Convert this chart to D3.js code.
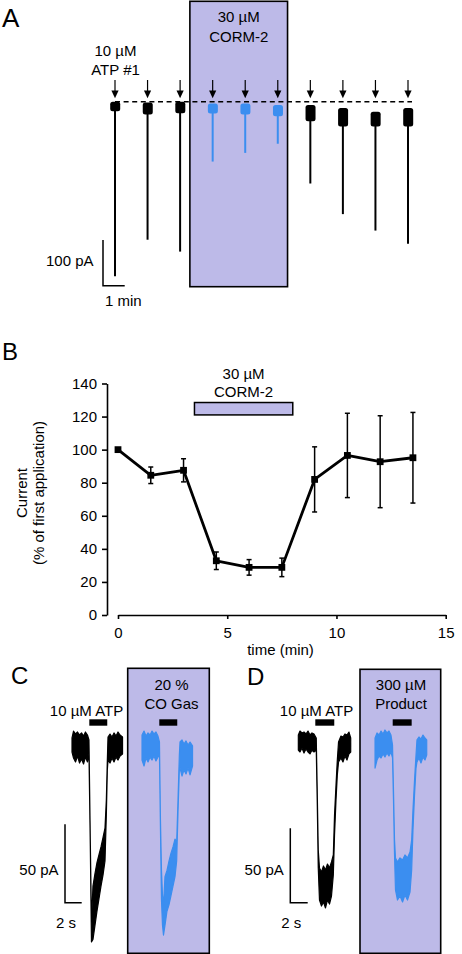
<!DOCTYPE html>
<html>
<head>
<meta charset="utf-8">
<script src="https://cdn.jsdelivr.net/npm/d3@7"></script>
<style>
  html, body { margin: 0; padding: 0; background: #fff; }
  svg { display: block; }
  text { font-family: "Liberation Sans", Arial, Helvetica, sans-serif; fill: #000; }
</style>
</head>
<body>
<svg id="fig" width="462" height="954"></svg>
<script>
// ---------------- DATA ----------------
// Panel A: ATP applications (min), peak inward current (pA below baseline), baseline noise band (pA below baseline)
const aTimes = [0, 1.5, 3, 4.5, 6, 7.5, 9, 10.5, 12, 13.5];
const aPeak = [382, 302, 328, 131, 112, 92, 179, 246, 282, 311];
const aNoiseTop = [0, 2, 0, 4, 4, 7, 7, 14, 22, 14];
const aNoiseBottom = [21, 28, 25, 26, 28, 32, 43, 54, 54, 54];
const aCormWindow = [3.45, 7.95];

// Panel B: normalised current (% of first application)
const bTimes = [0, 1.5, 3, 4.5, 6, 7.5, 9, 10.5, 12, 13.5];
const bMean = [100, 84.5, 87.5, 32.8, 28.8, 28.8, 82, 96.5, 92.7, 95.1];
const bSem = [0, 5, 7, 5.3, 4.7, 5.6, 19.7, 25.5, 27.8, 27.4];
const bYTicks = [0, 20, 40, 60, 80, 100, 120, 140];
const bXTicks = [0, 5, 10, 15];
const bCormBar = [3.5, 8];
const bCormBarLevel = [121, 128.5];

// Panels C / D: traces as [time (s) from ATP onset, upper edge (pA), lower edge (pA)]
const cAtpTrace = [
  [-2.07, 4.5, -4.5], [-1.89, 8.9, -8.3], [-1.65, 7.0, -10.8], [-1.41, 8.3, -7.0],
  [-1.17, 6.4, -11.5], [-0.93, 7.7, -8.9], [-0.69, 5.7, -12.1], [-0.46, 8.3, -7.7],
  [-0.22, 6.4, -10.8], [-0.04, 3.2, -5.7], [0.12, -60.6, -64.4], [0.26, -113.1, -125.6],
  [0.44, -90.0, -124.0], [0.68, -82.0, -115.0], [0.92, -75.0, -106.0], [1.16, -70.0, -98.0],
  [1.40, -65.0, -90.0], [1.64, -59.0, -83.0], [1.88, -53.0, -74.0], [2.04, -35.1, -44.6],
  [2.16, -9.6, -15.9], [2.24, 5.1, -9.6], [2.48, 7.0, -11.5], [2.72, 5.1, -8.3],
  [2.96, 7.7, -10.8], [3.20, 5.7, -7.7], [3.44, 8.3, -9.6], [3.68, 6.4, -7.0], [3.98, 5.1, -5.7]
];
const cCoTrace = [
  [-2.07, 6.4, -9.6], [-1.83, 8.9, -13.4], [-1.59, 5.7, -8.3], [-1.35, 7.7, -10.8],
  [-1.11, 6.4, -7.7], [-0.87, 8.9, -9.6], [-0.63, 7.0, -7.0], [-0.40, 8.3, -10.2],
  [-0.16, 5.7, -7.7], [0.02, 1.9, -6.4], [0.14, -47.8, -54.2], [0.26, -79.7, -98.9],
  [0.38, -95.7, -114.8], [0.50, -102.0, -121.2], [0.68, -84.0, -115.0], [0.92, -80.0, -106.0],
  [1.16, -74.0, -102.0], [1.40, -69.0, -96.0], [1.64, -65.0, -90.0], [1.88, -60.0, -84.0],
  [2.08, -62.0, -74.0], [2.24, -35.1, -42.7], [2.40, -6.4, -15.9], [2.48, 1.9, -14.7],
  [2.72, 3.2, -19.8], [2.96, 0.6, -15.9], [3.20, 2.6, -18.5], [3.44, 0, -14.7],
  [3.68, 1.9, -19.1], [3.98, -0.6, -13.4]
];
const dAtpTrace = [
  [-1.95, 6.7, -3.4], [-1.76, 9.4, -4.7], [-1.53, 8.1, -2.0], [-1.30, 8.7, -5.4],
  [-1.07, 7.4, -2.7], [-0.84, 9.4, -4.7], [-0.61, 6.7, -6.0], [-0.38, 8.1, -3.4],
  [-0.15, 7.4, -4.7], [0.11, 4.7, -3.4], [0.22, -30.2, -37.0], [0.34, -70.6, -82.7],
  [0.48, -82.7, -104.2], [0.71, -85.3, -108.2], [0.94, -81.3, -105.5], [1.17, -84.0, -109.5],
  [1.40, -80.0, -104.2], [1.63, -82.7, -106.9], [1.86, -78.6, -101.5], [2.07, -73.9, -87.4],
  [2.21, -47.0, -60.5], [2.38, -26.9, -37.0], [2.53, -10.1, -20.2], [2.67, 2.0, -11.4],
  [2.95, 6.0, -8.7], [3.18, 5.4, -11.4], [3.41, 7.4, -7.4], [3.64, 6.7, -10.1],
  [3.87, 8.7, -6.0], [4.07, 4.7, -4.7]
];
const dProductTrace = [
  [-2.03, 4.7, -15.5], [-1.80, 8.1, -10.1], [-1.57, 6.7, -7.4], [-1.34, 9.4, -8.7],
  [-1.11, 7.4, -6.0], [-0.89, 10.1, -8.1], [-0.66, 8.1, -5.4], [-0.43, 9.4, -7.4],
  [-0.20, 6.7, -4.7], [-0.02, 0, -8.7], [0.09, -30.2, -37.0], [0.21, -63.8, -73.9],
  [0.32, -75.9, -97.4], [0.55, -78.6, -104.2], [0.84, -75.9, -101.5], [1.13, -77.3, -105.5],
  [1.41, -73.9, -100.8], [1.70, -75.9, -104.2], [1.99, -71.9, -98.8], [2.18, -63.8, -84.0],
  [2.33, -43.7, -57.1], [2.51, -23.5, -33.6], [2.68, -6.7, -15.5], [2.79, 3.4, -11.4],
  [3.02, 5.4, -8.7], [3.25, 4.0, -12.1], [3.48, 6.7, -8.1], [3.71, 4.7, -10.1], [3.91, 3.4, -6.7]
];
const cAtpDuration = 2.15;
const dAtpDuration = 2.18;

// ---------------- STYLE ----------------
const PURPLE = "#bdbae8";
const BLUE = "#3b8ef0";
const BLACK = "#000";
const FONT = 15;

const svg = d3.select("#fig");
svg.append("rect").attr("width", 462).attr("height", 954).attr("fill", "#fff");

function label(g, x, y, txt, anchor, size) {
  return g.append("text").attr("x", x).attr("y", y)
    .attr("text-anchor", anchor || "middle")
    .attr("font-size", size || FONT).text(txt);
}

// ================= PANEL A =================
const gA = svg.append("g");
const xA = d3.scaleLinear().domain([0, 13.5]).range([115, 408]);
const yA = d3.scaleLinear().domain([0, -100]).range([101.7, 147.4]);

gA.append("rect")
  .attr("x", xA(aCormWindow[0])).attr("y", 1.3)
  .attr("width", xA(aCormWindow[1]) - xA(aCormWindow[0])).attr("height", 285.4)
  .attr("fill", PURPLE).attr("stroke", BLACK).attr("stroke-width", 1.6);

label(gA, 2, 27, "A", "start", 26);
label(gA, (xA(aCormWindow[0]) + xA(aCormWindow[1])) / 2, 22, "30 \u00b5M");
label(gA, (xA(aCormWindow[0]) + xA(aCormWindow[1])) / 2, 41.5, "CORM-2");
label(gA, xA(0) + 0.5, 55.5, "10 \u00b5M");
label(gA, xA(0) + 0.5, 74.5, "ATP #1");

// dashed baseline
gA.append("line")
  .attr("x1", xA(0)).attr("x2", xA(13.5) + 4)
  .attr("y1", yA(0)).attr("y2", yA(0))
  .attr("stroke", BLACK).attr("stroke-width", 1.5).attr("stroke-dasharray", "5,3.6");

const inCorm = t => t > aCormWindow[0] && t < aCormWindow[1];

// arrows
aTimes.forEach(t => {
  const x = xA(t);
  gA.append("line").attr("x1", x).attr("x2", x).attr("y1", 80).attr("y2", 92)
    .attr("stroke", BLACK).attr("stroke-width", 1.2);
  gA.append("path").attr("d", `M${x - 3.6},90.5L${x + 3.6},90.5L${x},98.2Z`).attr("fill", BLACK);
});

// responses
aTimes.forEach((t, i) => {
  const x = xA(t);
  const col = inCorm(t) ? BLUE : BLACK;
  gA.append("line").attr("x1", x).attr("x2", x)
    .attr("y1", yA(-aNoiseBottom[i]) - 2).attr("y2", yA(-aPeak[i]))
    .attr("stroke", col).attr("stroke-width", 2);
  gA.append("rect")
    .attr("x", x - 4.8).attr("width", 10)
    .attr("y", yA(-aNoiseTop[i])).attr("height", yA(-aNoiseBottom[i]) - yA(-aNoiseTop[i]))
    .attr("rx", 2.5).attr("fill", col);
});

// scale bar A
const sbAx = 103, sbAy = 285.7;
gA.append("path")
  .attr("d", `M${sbAx},${sbAy - (yA(-100) - yA(0))}V${sbAy}H${sbAx + (xA(1) - xA(0))}`)
  .attr("fill", "none").attr("stroke", BLACK).attr("stroke-width", 1.5);
label(gA, 93.5, 266, "100 pA", "end");
label(gA, 105, 306, "1 min", "start");

// ================= PANEL B =================
const gB = svg.append("g");
const xB = d3.scaleLinear().domain([0, 15]).range([118, 445.7]);
const yB = d3.scaleLinear().domain([0, 140]).range([615, 383.5]);

label(gB, 2, 360, "B", "start", 24);

const yAxis = d3.axisLeft(yB).tickValues(bYTicks).tickSize(5).tickSizeOuter(0).tickPadding(5);
const gy = gB.append("g").attr("transform", "translate(107,0)").call(yAxis);
const xAxis = d3.axisBottom(xB).tickValues(bXTicks).tickSize(4).tickSizeOuter(0).tickPadding(8);
const gx = gB.append("g").attr("transform", "translate(0,615)").call(xAxis);
[gy, gx].forEach(g => {
  g.selectAll("path, line").attr("stroke", BLACK).attr("stroke-width", 1.6);
  g.selectAll("text").attr("font-size", FONT).attr("fill", BLACK)
    .attr("font-family", '"Liberation Sans", Arial, Helvetica, sans-serif');
});

label(gB, 280.5, 655, "time (min)");
gB.append("text").attr("transform", "translate(27,493) rotate(-90)")
  .attr("text-anchor", "middle").attr("font-size", FONT).text("Current");
gB.append("text").attr("transform", "translate(44,493) rotate(-90)")
  .attr("text-anchor", "middle").attr("font-size", FONT).text("(% of first application)");

// treatment bar
gB.append("rect")
  .attr("x", xB(bCormBar[0])).attr("width", xB(bCormBar[1]) - xB(bCormBar[0]))
  .attr("y", yB(bCormBarLevel[1])).attr("height", yB(bCormBarLevel[0]) - yB(bCormBarLevel[1]))
  .attr("fill", PURPLE).attr("stroke", BLACK).attr("stroke-width", 1.5);
const barMid = xB((bCormBar[0] + bCormBar[1]) / 2);
label(gB, barMid, 379, "30 \u00b5M");
label(gB, barMid, 397, "CORM-2");

const bData = bTimes.map((t, i) => ({ t, m: bMean[i], s: bSem[i] }));
// error bars
bData.filter(d => d.s > 0).forEach(d => {
  const x = xB(d.t), y1 = yB(d.m + d.s), y2 = yB(d.m - d.s);
  gB.append("line").attr("x1", x).attr("x2", x).attr("y1", y1).attr("y2", y2)
    .attr("stroke", BLACK).attr("stroke-width", 1.5);
  [y1, y2].forEach(y => gB.append("line").attr("x1", x - 2.5).attr("x2", x + 2.5)
    .attr("y1", y).attr("y2", y).attr("stroke", BLACK).attr("stroke-width", 1.5));
});
gB.append("path").datum(bData)
  .attr("d", d3.line().x(d => xB(d.t)).y(d => yB(d.m)))
  .attr("fill", "none").attr("stroke", BLACK).attr("stroke-width", 2.8).attr("stroke-linejoin", "round");
gB.selectAll("rect.pt").data(bData).enter().append("rect").attr("class", "pt")
  .attr("x", d => xB(d.t) - 3.4).attr("y", d => yB(d.m) - 3.4)
  .attr("width", 6.8).attr("height", 6.8).attr("fill", BLACK);

// ================= PANELS C & D =================
function tracePanel(opts) {
  const g = svg.append("g");
  const y = d3.scaleLinear().domain([0, -50]).range([745, 745 + opts.px50]);
  const t = d3.scaleLinear().domain([0, 2]).range([0, opts.px2s]);

  g.append("rect").attr("x", opts.box[0]).attr("y", opts.box[1])
    .attr("width", opts.box[2] - opts.box[0]).attr("height", opts.box[3] - opts.box[1])
    .attr("fill", PURPLE).attr("stroke", BLACK).attr("stroke-width", 1.6);

  label(g, opts.letter[0], opts.letter[1], opts.letter[2], "start", 24);
  label(g, opts.atpLabelX, 716, "10 \u00b5M ATP");
  label(g, opts.boxLabelX, 690, opts.boxLabel[0]);
  label(g, opts.boxLabelX, 709, opts.boxLabel[1]);

  const area = d3.area().x(d => t(d[0])).y0(d => y(d[2])).y1(d => y(d[1]));
  opts.traces.forEach(tr => {
    const gt = g.append("g").attr("transform", `translate(${tr.x0},0)`);
    gt.append("rect").attr("x", t(0)).attr("width", t(tr.dur) - t(0))
      .attr("y", 719.3).attr("height", 6.4).attr("fill", BLACK);
    gt.append("path").datum(tr.data).attr("d", area)
      .attr("fill", tr.color).attr("stroke", tr.color).attr("stroke-width", 1.2)
      .attr("stroke-linejoin", "round");
  });

  const [sx, sy] = opts.scaleBar;
  g.append("path")
    .attr("d", `M${sx},${sy - (y(-50) - y(0))}V${sy}H${sx + (t(2) - t(0))}`)
    .attr("fill", "none").attr("stroke", BLACK).attr("stroke-width", 1.5);
  label(g, sx - 6.5, 875, "50 pA", "end");
  label(g, sx - 9, 928, "2 s", "start");
}

tracePanel({
  px50: 78.4, px2s: 16.7,
  box: [127.7, 668.3, 209.3, 953.3],
  letter: [11, 684, "C"],
  atpLabelX: 86.5,
  boxLabelX: 171.5, boxLabel: ["20 %", "CO Gas"],
  traces: [
    { x0: 89.3, data: cAtpTrace, color: BLACK, dur: cAtpDuration },
    { x0: 159.3, data: cCoTrace, color: BLUE, dur: cAtpDuration }
  ],
  scaleBar: [65, 902.7]
});

tracePanel({
  px50: 74.4, px2s: 17.4,
  box: [360, 669.3, 440.7, 953.3],
  letter: [247, 685, "D"],
  atpLabelX: 316.5,
  boxLabelX: 401, boxLabel: ["300 \u00b5M", "Product"],
  traces: [
    { x0: 315.3, data: dAtpTrace, color: BLACK, dur: dAtpDuration },
    { x0: 392.7, data: dProductTrace, color: BLUE, dur: dAtpDuration }
  ],
  scaleBar: [290.3, 902.7]
});
</script>
</body>
</html>
